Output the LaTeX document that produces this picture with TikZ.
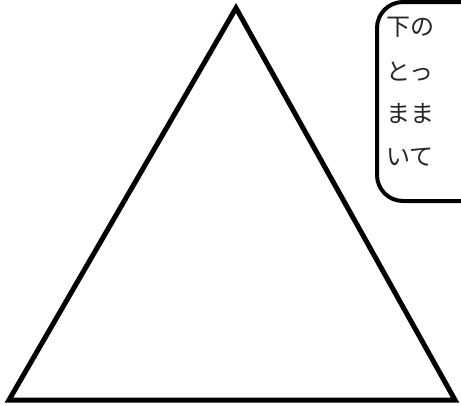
\documentclass[tikz,border=0pt]{standalone}
\usepackage{fontspec}
\newfontfamily\cjk{Noto Sans CJK JP}
\tikzset{
	memo/.style={font=\cjk\fontsize{24}{24}\selectfont,anchor=west,inner sep=0pt,text=black!85},
}
\begin{document}
\begin{tikzpicture}[x=1pt,y=-1pt]
		\useasboundingbox (0,0) rectangle (461,405);
		\clip (0,0) rectangle (461,405);
		% triangle
		\draw[line width=5pt,line join=miter] (236,8) -- (455,400) -- (9,400) -- cycle;
		% callout box
		\draw[line width=4pt,fill=white,rounded corners=26pt] (377,2) rectangle (560,201);
		% text
		\node[memo] (l1) at (386,27) {下の};
		\node[memo] (l2) at (386,71) {とっ};
		\node[memo] (l3) at (386,114) {まま};
		\node[memo] (l4) at (386,157) {いて};
	\end{tikzpicture}
\end{document}
